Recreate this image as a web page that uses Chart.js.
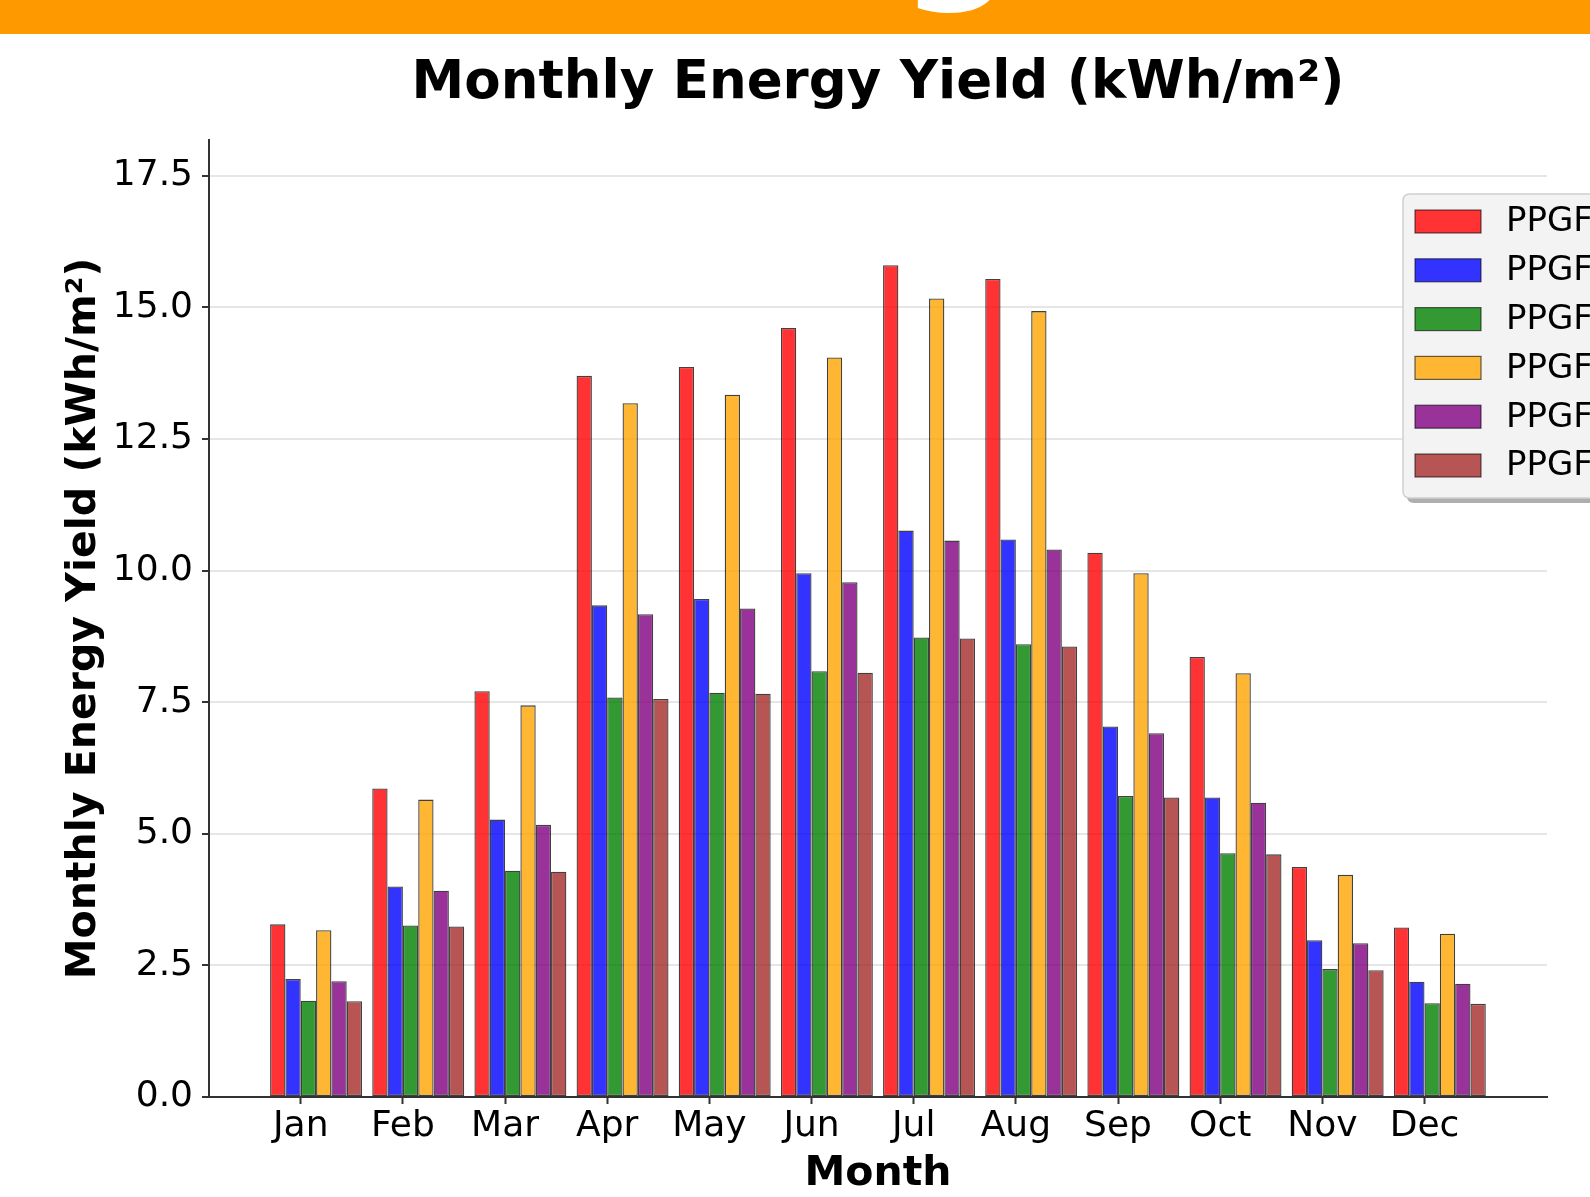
<!DOCTYPE html>
<html>
<head>
<meta charset="utf-8">
<script src="https://cdn.jsdelivr.net/npm/chart.js@4.4.1/dist/chart.umd.min.js"></script>
<style>
  html, body { margin: 0; padding: 0; background: #ffffff; }
  #wrap { width: 1590px; height: 1197px; position: relative; }
</style>
</head>
<body>
<div id="wrap"><canvas id="c" width="1590" height="1197"></canvas></div>
<script>
// ---- Data ----
const months = ['Jan', 'Feb', 'Mar', 'Apr', 'May', 'Jun', 'Jul', 'Aug', 'Sep', 'Oct', 'Nov', 'Dec'];
const seriesLabels = ['PPGF', 'PPGF', 'PPGF', 'PPGF', 'PPGF', 'PPGF'];
const seriesRed    = [3.28, 5.86, 7.71, 13.70, 13.87, 14.61, 15.80, 15.54, 10.34, 8.36, 4.37, 3.22];
const seriesBlue   = [2.24, 4.00, 5.27, 9.34, 9.46, 9.95, 10.76, 10.59, 7.04, 5.69, 2.98, 2.19];
const seriesGreen  = [1.83, 3.26, 4.30, 7.59, 7.68, 8.09, 8.73, 8.60, 5.72, 4.63, 2.43, 1.78];
const seriesOrange = [3.17, 5.65, 7.44, 13.18, 13.34, 14.05, 15.17, 14.93, 9.95, 8.05, 4.22, 3.10];
const seriesPurple = [2.20, 3.92, 5.17, 9.17, 9.28, 9.78, 10.57, 10.40, 6.91, 5.59, 2.92, 2.15];
const seriesBrown  = [1.82, 3.24, 4.28, 7.56, 7.66, 8.06, 8.71, 8.56, 5.69, 4.61, 2.41, 1.77];
const yTicks = [0, 2.5, 5.0, 7.5, 10.0, 12.5, 15.0, 17.5];
const chartTitle = 'Monthly Energy Yield (kWh/m²)';
const xTitle = 'Month';
const yTitle = 'Monthly Energy Yield (kWh/m²)';

// ---- Styles ----
const fills = ['rgba(255,0,0,0.8)', 'rgba(0,0,255,0.8)', 'rgba(0,128,0,0.8)',
               'rgba(255,165,0,0.8)', 'rgba(128,0,128,0.8)', 'rgba(165,42,42,0.8)'];
const allSeries = [seriesRed, seriesBlue, seriesGreen, seriesOrange, seriesPurple, seriesBrown];
const FONT = "'DejaVu Sans', sans-serif";
const GROUP_SHIFT = 0.15; // group centre relative to tick (tick sits at 3rd bar's left edge)

const datasets = allSeries.map((s, k) => ({
  label: seriesLabels[k],
  data: s.map((v, i) => ({ x: i + GROUP_SHIFT, y: v })),
  backgroundColor: fills[k],
  borderColor: 'rgba(0,0,0,0.75)',
  borderWidth: 1.3,
  borderSkipped: false,
  categoryPercentage: 0.9,
  barPercentage: 1.0
}));

const decor = {
  id: 'decor',
  beforeDraw(chart) {
    const ctx = chart.ctx;
    ctx.save();
    ctx.fillStyle = '#ffffff';
    ctx.fillRect(0, 0, chart.width, chart.height);
    // orange banner
    ctx.fillStyle = '#ff9900';
    ctx.fillRect(0, 0, chart.width, 34);
    // clipped white glyph of a larger heading above
    ctx.beginPath();
    ctx.rect(0, 0, chart.width, 34);
    ctx.clip();
    ctx.fillStyle = '#ffffff';
    ctx.font = "bold 160px " + FONT;
    ctx.textAlign = 'left';
    ctx.textBaseline = 'alphabetic';
    ctx.fillText('g', 900, -22);
    ctx.restore();
  },
  afterDraw(chart) {
    const ctx = chart.ctx;
    const area = chart.chartArea;
    ctx.save();
    // main title
    ctx.fillStyle = '#000000';
    ctx.font = "bold 53px " + FONT;
    ctx.textAlign = 'center';
    ctx.textBaseline = 'middle';
    ctx.fillText(chartTitle, (area.left + area.right) / 2, 84);

    // legend
    const lx = 1403, ly = 194, lw = 260, lh = 304, r = 7;
    const rr = (x, y, w, h) => {
      ctx.beginPath();
      ctx.moveTo(x + r, y);
      ctx.lineTo(x + w - r, y);
      ctx.quadraticCurveTo(x + w, y, x + w, y + r);
      ctx.lineTo(x + w, y + h - r);
      ctx.quadraticCurveTo(x + w, y + h, x + w - r, y + h);
      ctx.lineTo(x + r, y + h);
      ctx.quadraticCurveTo(x, y + h, x, y + h - r);
      ctx.lineTo(x, y + r);
      ctx.quadraticCurveTo(x, y, x + r, y);
      ctx.closePath();
    };
    ctx.fillStyle = 'rgba(120,120,120,0.6)';
    rr(lx + 4, ly + 5, lw, lh);
    ctx.fill();
    ctx.fillStyle = '#f3f3f3';
    rr(lx, ly, lw, lh);
    ctx.fill();
    ctx.strokeStyle = '#d0d0d0';
    ctx.lineWidth = 1.5;
    ctx.stroke();
    ctx.font = "34px " + FONT;
    ctx.textAlign = 'left';
    ctx.textBaseline = 'middle';
    chart.data.datasets.forEach((ds, k) => {
      const cy = 221.5 + k * 48.8;
      ctx.fillStyle = '#ffffff';
      ctx.fillRect(1415, cy - 11.5, 66, 23);
      ctx.fillStyle = ds.backgroundColor;
      ctx.fillRect(1415, cy - 11.5, 66, 23);
      ctx.strokeStyle = 'rgba(0,0,0,0.6)';
      ctx.lineWidth = 1.2;
      ctx.strokeRect(1415, cy - 11.5, 66, 23);
      ctx.fillStyle = '#000000';
      ctx.fillText(ds.label, 1506, cy + 1);
    });
    ctx.restore();
  }
};

new Chart(document.getElementById('c'), {
  type: 'bar',
  data: { datasets },
  options: {
    responsive: false,
    animation: false,
    devicePixelRatio: 1,
    layout: { padding: { left: 0, right: 43, top: 140, bottom: 0 } },
    plugins: {
      legend: { display: false },
      title: { display: false },
      tooltip: { enabled: false }
    },
    scales: {
      x: {
        type: 'linear',
        min: -0.898,
        max: 12.199,
        offset: false,
        afterFit(scale) { scale.height = 100; },
        afterBuildTicks(scale) { scale.ticks = months.map((m, i) => ({ value: i })); },
        ticks: {
          autoSkip: false,
          maxRotation: 0,
          padding: 1,
          color: '#000000',
          font: { family: FONT, size: 36 },
          callback: (v) => months[Math.round(v)]
        },
        grid: {
          offset: false,
          drawOnChartArea: false,
          drawTicks: true,
          tickLength: 7,
          tickWidth: 2,
          tickColor: '#333333'
        },
        border: { display: true, color: '#333333', width: 2 },
        title: {
          display: true,
          text: xTitle,
          color: '#000000',
          font: { family: FONT, size: 41, weight: 'bold', lineHeight: 1.05 },
          padding: { top: 0, bottom: 1 }
        }
      },
      y: {
        type: 'linear',
        min: 0,
        max: 18.18,
        afterFit(scale) { scale.width = 209; },
        afterBuildTicks(scale) { scale.ticks = yTicks.map(v => ({ value: v })); },
        ticks: {
          padding: 9,
          color: '#000000',
          font: { family: FONT, size: 36 },
          callback: (v) => Number(v).toFixed(1)
        },
        grid: {
          color: '#e6e6e6',
          lineWidth: 2,
          drawTicks: true,
          tickLength: 7,
          tickWidth: 2,
          tickColor: '#333333'
        },
        border: { display: true, color: '#333333', width: 2 },
        title: {
          display: true,
          text: yTitle,
          color: '#000000',
          font: { family: FONT, size: 41, weight: 'bold' },
          padding: { top: 60, bottom: 0 }
        }
      }
    }
  },
  plugins: [decor]
});
</script>
</body>
</html>
